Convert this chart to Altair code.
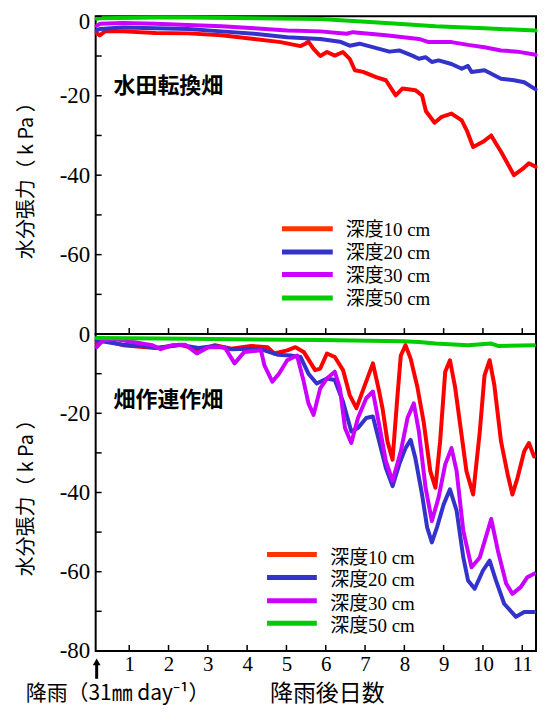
import altair as alt
import pandas as pd

# ---------------- data ----------------
series_labels = ["深度10 cm", "深度20 cm", "深度30 cm", "深度50 cm"]
line_colors = ["#FF0000", "#3333CC", "#CC00FF", "#00CC00"]
legend_colors = ["#FF3300", "#3333CC", "#CC00FF", "#00CC00"]
x_tick_values = list(range(1, 12))
y_minor_ticks = [0, -10, -20, -30, -40, -50, -60, -70, -80]
top_y_labels = [0, -20, -40, -60]
bottom_y_labels = [0, -20, -40, -60, -80]

# 水田転換畑 (upper panel)
top_d10_day = [0.17, 0.25, 0.38, 0.84, 1.67, 2.5, 3.35, 4.18, 4.85, 5.36, 5.48, 5.56, 5.69, 5.86,
               6.03, 6.23, 6.44, 6.61, 6.74, 6.95, 7.28, 7.53, 7.78, 7.95, 8.28, 8.45, 8.55, 8.77,
               8.95, 9.2, 9.46, 9.6, 9.75, 10.0, 10.21, 10.3, 10.46, 10.79, 11.0, 11.17, 11.34]
top_d10_kpa = [-4.2, -4.8, -3.8, -3.8, -4.2, -4.3, -4.8, -5.7, -6.5, -7.5, -6.9, -6.4, -8.2, -10.0,
               -9.0, -9.9, -9.0, -10.7, -13.6, -14.0, -15.3, -16.1, -19.9, -18.2, -18.6, -19.9, -23.9, -26.8,
               -25.3, -24.5, -26.2, -29.0, -32.9, -31.6, -30.0, -31.5, -34.1, -40.0, -38.5, -37.0, -37.9]

top_d20_day = [0.17, 0.25, 0.84, 1.67, 2.5, 3.35, 4.18, 5.02, 5.86, 6.36, 6.61, 6.86, 7.36, 7.62,
               7.87, 8.2, 8.37, 8.54, 8.7, 8.87, 9.2, 9.46, 9.62, 9.71, 10.04, 10.46, 10.79, 11.05, 11.34]
top_d20_kpa = [-3.6, -3.2, -2.8, -3.0, -3.2, -3.8, -4.4, -5.3, -5.7, -6.4, -7.4, -6.9, -8.2, -8.9,
               -8.6, -9.9, -10.7, -10.3, -11.5, -11.1, -12.0, -13.2, -12.5, -14.0, -13.6, -15.7, -16.1, -16.6, -18.4]

top_d30_day = [0.17, 0.25, 0.84, 1.67, 2.5, 3.35, 4.18, 5.02, 5.86, 6.53, 6.69, 7.53, 8.37, 8.62,
               9.2, 9.62, 10.04, 10.46, 10.88, 11.34]
top_d30_kpa = [-2.4, -1.9, -1.7, -1.9, -2.2, -2.5, -3.0, -3.6, -3.8, -4.4, -4.0, -4.8, -5.7, -6.5,
               -6.5, -7.2, -7.8, -8.6, -8.9, -9.7]

top_d50_day = [0.17, 0.25, 1.67, 2.5, 4.18, 5.86, 7.53, 8.79, 10.04, 11.34]
top_d50_kpa = [-0.6, -0.5, -0.3, -0.3, -0.5, -0.7, -1.7, -2.5, -3.0, -3.6]

# 畑作連作畑 (lower panel)
bot_d10_day = [0.17, 0.38, 0.84, 1.67, 2.34, 2.76, 3.18, 3.6, 4.1, 4.52, 4.69, 5.02, 5.23, 5.44,
               5.73, 5.86, 6.03, 6.23, 6.44, 6.61, 6.78, 6.95, 7.2, 7.36, 7.45, 7.57, 7.7, 7.82,
               7.91, 8.03, 8.16, 8.33, 8.49, 8.66, 8.79, 8.91, 9.04, 9.16, 9.29, 9.41, 9.58, 9.75,
               9.92, 10.04, 10.17, 10.29, 10.46, 10.63, 10.75, 10.88, 11.05, 11.17, 11.3]
bot_d10_kpa = [-2.4, -1.6, -2.8, -3.5, -2.7, -4.1, -2.8, -3.7, -3.0, -3.3, -4.9, -4.1, -3.3, -4.5,
               -9.1, -8.7, -4.9, -5.8, -9.1, -15.4, -18.7, -14.1, -7.4, -14.5, -19.1, -27.1, -31.7, -16.2,
               -5.4, -2.8, -6.2, -13.3, -22.1, -34.6, -38.8, -27.1, -9.5, -6.6, -13.3, -22.1, -34.6, -40.5,
               -24.6, -10.4, -6.6, -12.9, -27.1, -35.5, -40.5, -36.3, -29.6, -27.5, -30.9]

bot_d20_day = [0.17, 0.42, 0.84, 1.34, 1.76, 2.26, 2.76, 3.18, 3.6, 4.02, 4.44, 4.77, 5.1, 5.36,
               5.56, 5.77, 6.03, 6.23, 6.44, 6.65, 6.82, 7.03, 7.2, 7.36, 7.53, 7.7, 7.87, 8.03,
               8.16, 8.28, 8.45, 8.58, 8.7, 8.83, 9.0, 9.16, 9.33, 9.5, 9.62, 9.79, 10.0, 10.17,
               10.33, 10.54, 10.84, 11.05, 11.3]
bot_d20_kpa = [-1.6, -2.0, -2.7, -3.0, -3.5, -2.7, -3.5, -3.0, -3.8, -3.7, -4.1, -5.2, -5.4, -5.8,
               -10.0, -12.5, -11.2, -11.6, -17.1, -24.6, -23.7, -21.2, -20.8, -27.1, -33.8, -38.4, -32.9, -28.8,
               -26.7, -31.3, -40.5, -48.8, -52.6, -48.8, -43.0, -39.2, -44.6, -56.4, -62.2, -64.3, -59.7, -57.2,
               -62.2, -68.1, -71.4, -70.2, -70.2]

bot_d30_day = [0.17, 0.33, 0.67, 1.09, 1.59, 1.8, 2.09, 2.43, 2.72, 3.01, 3.43, 3.68, 3.93, 4.35,
               4.44, 4.64, 4.81, 5.02, 5.27, 5.44, 5.56, 5.69, 5.86, 6.03, 6.23, 6.36, 6.49, 6.65,
               6.82, 7.03, 7.2, 7.36, 7.53, 7.7, 7.91, 8.08, 8.24, 8.37, 8.54, 8.7, 8.87, 9.04,
               9.2, 9.33, 9.5, 9.71, 9.92, 10.21, 10.38, 10.59, 10.75, 10.96, 11.13, 11.3]
bot_d30_kpa = [-3.3, -1.6, -1.3, -2.0, -2.8, -3.8, -2.8, -2.7, -4.9, -3.3, -3.3, -7.4, -4.5, -4.1,
               -7.9, -12.0, -10.0, -6.6, -5.4, -12.0, -17.5, -20.4, -13.7, -11.2, -9.5, -13.7, -23.7, -27.5,
               -21.2, -16.2, -14.5, -22.9, -32.1, -37.1, -29.6, -21.2, -17.5, -24.6, -38.8, -47.2, -41.3, -32.9,
               -28.8, -34.6, -49.7, -58.9, -56.4, -46.7, -54.7, -63.0, -65.6, -63.9, -61.4, -60.5]

bot_d50_day = [0.17, 2.5, 5.86, 7.95, 8.37, 8.79, 9.62, 10.21, 10.38, 11.3]
bot_d50_kpa = [-1.0, -1.2, -1.5, -1.8, -2.0, -2.4, -2.8, -2.4, -3.0, -2.8]

top_series = [(top_d10_day, top_d10_kpa), (top_d20_day, top_d20_kpa),
              (top_d30_day, top_d30_kpa), (top_d50_day, top_d50_kpa)]
bot_series = [(bot_d10_day, bot_d10_kpa), (bot_d20_day, bot_d20_kpa),
              (bot_d30_day, bot_d30_kpa), (bot_d50_day, bot_d50_kpa)]

# ---------------- layout ----------------
W = 442
H_TOP = 319
H_BOT = 318
XDOM = [0.146, 11.35]
SERIF = "Liberation Serif"
CJK = "Noto Sans CJK JP"
MIXED = "Liberation Serif, Noto Sans CJK JP"


def one_row():
    return pd.DataFrame({"k": [0]})


def make_panel(series, H, y_labels, show_x, panel_name, name_y, legend_rows, leg_x, leg_text_x,
               text_dy, flush):
    x_axis = None
    if show_x:
        x_axis = alt.Axis(values=x_tick_values, ticks=False, domain=False, grid=False,
                          labelFont=SERIF, labelFontSize=21, labelColor="black", labelPadding=3,
                          labelExpr="'' + datum.value",
                          title="降雨後日数", titleFont=CJK, titleFontSize=23,
                          titleFontWeight="normal", titleColor="black", titlePadding=8,
                          titleX=W / 2 + 11)
    yargs = dict(values=y_labels, ticks=False, domain=False, grid=False,
                 labelFont=SERIF, labelFontSize=23, labelColor="black", labelPadding=6,
                 labelExpr="'' + datum.value",
                 title="水分張力（ k Pa ）", titleFont=CJK, titleFontSize=20,
                 titleFontWeight="normal", titleColor="black", titlePadding=23)
    if flush:
        yargs.update(labelFlush=True, labelFlushOffset=6)
    y_axis = alt.Axis(**yargs)
    xenc = alt.X("day:Q", scale=alt.Scale(domain=XDOM, nice=False, zero=False), axis=x_axis)
    yenc = alt.Y("kpa:Q", scale=alt.Scale(domain=[-80, 0], nice=False, zero=False), axis=y_axis)

    layers = []
    for (d, v), c in zip(series, line_colors):
        df = pd.DataFrame({"day": d, "kpa": v})
        layers.append(alt.Chart(df).mark_line(color=c, strokeWidth=4, strokeJoin="round",
                                              strokeCap="round").encode(x=xenc, y=yenc))
    # inward ticks
    layers.append(alt.Chart(pd.DataFrame({"day": x_tick_values})).mark_rule(
        color="black", strokeWidth=1.5).encode(x=xenc, y=alt.value(H), y2=alt.value(H - 6)))
    layers.append(alt.Chart(pd.DataFrame({"kpa": y_minor_ticks})).mark_rule(
        color="black", strokeWidth=1.5).encode(y=yenc, x=alt.value(0), x2=alt.value(6)))
    # panel name
    layers.append(alt.Chart(one_row()).mark_text(
        align="left", baseline="middle", font=CJK, fontSize=22, fontWeight="bold", color="black"
    ).encode(x=alt.value(18), y=alt.value(name_y), text=alt.value(panel_name)))
    # legend
    for ry, lab, lc in zip(legend_rows, series_labels, legend_colors):
        layers.append(alt.Chart(one_row()).mark_rule(color=lc, strokeWidth=5).encode(
            x=alt.value(leg_x[0]), x2=alt.value(leg_x[1]), y=alt.value(ry)))
        layers.append(alt.Chart(one_row()).mark_text(
            align="left", baseline="middle", font=MIXED, fontSize=19, color="black"
        ).encode(x=alt.value(leg_text_x), y=alt.value(ry + text_dy), text=alt.value(lab)))
    if show_x:
        layers.append(alt.Chart(one_row()).mark_text(
            align="center", baseline="middle", font=CJK, fontSize=21, color="black"
        ).encode(x=alt.value(22), y=alt.value(H + 43), text=alt.value("降雨（31㎜ day⁻¹）")))
        layers.append(alt.Chart(one_row()).mark_rule(color="black", strokeWidth=3).encode(
            x=alt.value(1), y=alt.value(H + 12), y2=alt.value(H + 28)))
        layers.append(alt.Chart(one_row()).mark_point(
            shape="triangle-up", filled=True, color="black", size=60, opacity=1).encode(
            x=alt.value(1), y=alt.value(H + 11)))
    return alt.layer(*layers).properties(width=W, height=H)


top = make_panel(top_series, H_TOP, top_y_labels, False, "水田転換畑", 69.5,
                 [213.3, 236.7, 259.3, 282.7], (187, 238), 251, 1, True)
bottom = make_panel(bot_series, H_BOT, bottom_y_labels, True, "畑作連作畑", 66,
                    [221.3, 244.3, 267.7, 290.3], (172, 222), 235.5, 3, False)

chart = alt.vconcat(top, bottom, spacing=0, bounds="flush").properties(
    padding={"left": 7, "top": 0, "right": 0, "bottom": 0}
).configure_view(stroke="black", strokeWidth=2).configure_concat(spacing=0)

chart.save("out.html", embed_options={"renderer": "svg", "actions": False})
